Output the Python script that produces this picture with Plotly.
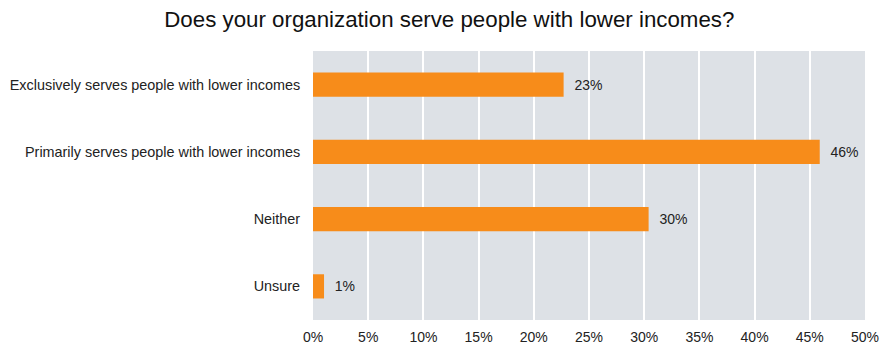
import plotly.graph_objects as go

categories = [
    "Exclusively serves people with lower incomes",
    "Primarily serves people with lower incomes",
    "Neither",
    "Unsure",
]
shares = [22.7, 45.9, 30.4, 1.0]
tick_values = [0, 5, 10, 15, 20, 25, 30, 35, 40, 45, 50]
tick_labels = [f"{v}%" for v in tick_values]

font_family = "Liberation Sans, Arial, sans-serif"

fig = go.Figure(
    go.Bar(
        x=shares,
        y=categories,
        orientation="h",
        marker=dict(color="#f78c1a", line=dict(width=0)),
        width=0.36,
        texttemplate="  %{x:.0f}%",
        textposition="outside",
        textfont=dict(family=font_family, size=14, color="#222222"),
        cliponaxis=False,
    )
)

fig.update_layout(
    width=881,
    height=346,
    margin=dict(l=313, r=16, t=51, b=26, autoexpand=False),
    paper_bgcolor="white",
    plot_bgcolor="#dde1e6",
    showlegend=False,
    title=dict(
        text="Does your organization serve people with lower incomes?",
        x=0.51,
        xanchor="center",
        y=0.945,
        yanchor="middle",
        font=dict(family=font_family, size=22.3, color="#111111"),
    ),
    font=dict(family=font_family, size=14, color="#222222"),
)

fig.update_xaxes(
    range=[0, 50],
    tickvals=tick_values,
    ticktext=tick_labels,
    showgrid=True,
    gridcolor="white",
    gridwidth=1.5,
    zeroline=False,
    showline=False,
    ticks="outside",
    ticklen=4,
    tickcolor="rgba(0,0,0,0)",
    tickfont=dict(size=14, color="#222222"),
    automargin=False,
)

fig.update_yaxes(
    categoryorder="array",
    categoryarray=categories[::-1],
    showgrid=False,
    zeroline=False,
    showline=False,
    ticks="outside",
    ticklen=9,
    tickcolor="rgba(0,0,0,0)",
    tickfont=dict(size=14.4, color="#222222"),
    automargin=False,
)

fig.write_html("out.html")
